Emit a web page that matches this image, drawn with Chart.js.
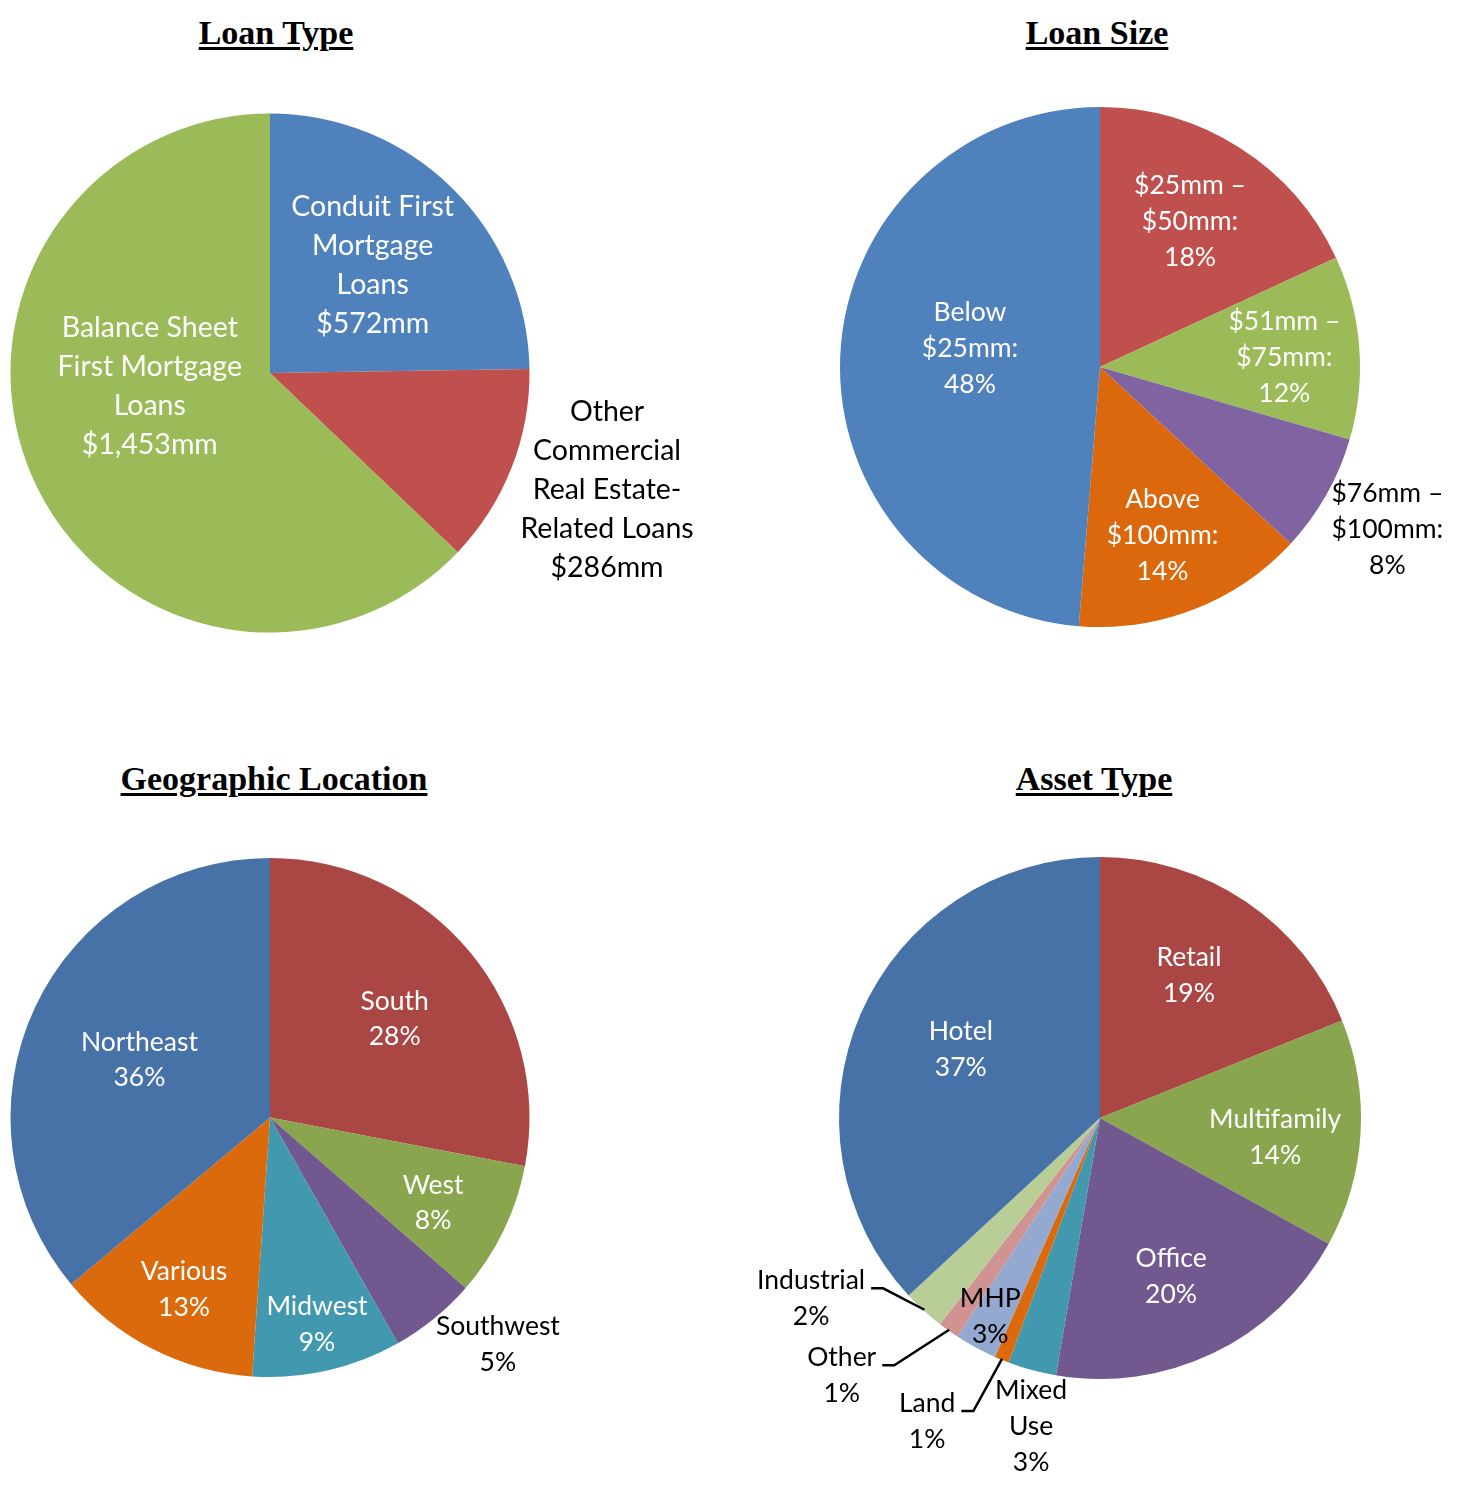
<!DOCTYPE html>
<html lang="en">
<head>
    <meta charset="UTF-8">
    <title>Loan Portfolio Composition</title>
    <script src="https://cdn.jsdelivr.net/npm/chart.js"></script>
    <style>
        body {
            margin: 0;
            background: #ffffff;
        }

        .page {
            position: relative;
            width: 1465px;
            height: 1485px;
            overflow: hidden;
        }

        .page canvas {
            position: absolute;
        }

        .title {
            position: absolute;
            transform: translateX(-50%);
            font-family: 'Liberation Serif', 'Times New Roman', serif;
            font-weight: bold;
            font-size: 34px;
            line-height: 34px;
            white-space: nowrap;
            color: #000;
            text-decoration: underline;
            text-decoration-thickness: 3px;
            text-underline-offset: 3px;
        }
    </style>
</head>
<body>

<div class="page" id="page">
    <div class="title" style="left:276px; top:16px;">Loan Type</div>
    <div class="title" style="left:1097px; top:16px;">Loan Size</div>
    <div class="title" style="left:274px; top:762px;">Geographic Location</div>
    <div class="title" style="left:1094px; top:762px;">Asset Type</div>
</div>

<script>
    // --- data ---
    const loanTypeCategories = ['Conduit First Mortgage Loans', 'Other Commercial Real Estate-Related Loans', 'Balance Sheet First Mortgage Loans'];
    const loanTypeValues = [572, 286, 1453];
    const loanTypeText = [
        ['Conduit First', 'Mortgage', 'Loans', '$572mm'],
        ['Other', 'Commercial', 'Real Estate-', 'Related Loans', '$286mm'],
        ['Balance Sheet', 'First Mortgage', 'Loans', '$1,453mm']
    ];

    const loanSizeCategories = ['$25mm – $50mm', '$51mm – $75mm', '$76mm – $100mm', 'Above $100mm', 'Below $25mm'];
    const loanSizeValues = [18.1, 11.4, 7.4, 14.4, 48.7];
    const loanSizeText = [
        ['$25mm –', '$50mm:', '18%'],
        ['$51mm –', '$75mm:', '12%'],
        ['$76mm –', '$100mm:', '8%'],
        ['Above', '$100mm:', '14%'],
        ['Below', '$25mm:', '48%']
    ];

    const geoCategories = ['South', 'West', 'Southwest', 'Midwest', 'Various', 'Northeast'];
    const geoValues = [28.0, 8.4, 5.4, 9.3, 12.8, 36.1];
    const geoText = [
        ['South', '28%'],
        ['West', '8%'],
        ['Southwest', '5%'],
        ['Midwest', '9%'],
        ['Various', '13%'],
        ['Northeast', '36%']
    ];

    const assetCategories = ['Retail', 'Multifamily', 'Office', 'Mixed Use', 'Land', 'MHP', 'Other', 'Industrial', 'Hotel'];
    const assetValues = [18.9, 14.1, 19.7, 3.0, 0.9, 2.6, 1.3, 2.6, 36.9];
    const assetText = [
        ['Retail', '19%'],
        ['Multifamily', '14%'],
        ['Office', '20%'],
        ['Mixed', 'Use', '3%'],
        ['Land', '1%'],
        ['MHP', '3%'],
        ['Other', '1%'],
        ['Industrial', '2%'],
        ['Hotel', '37%']
    ];

    // --- draws the multi-line labels (and leader lines) for each slice ---
    const sliceLabels = {
        id: 'sliceLabels',
        afterDatasetsDraw(chart, args, opts) {
            const ctx = chart.ctx;
            const arcs = chart.getDatasetMeta(0).data;
            ctx.save();
            ctx.font = opts.size + 'px Lato, "Open Sans", sans-serif';
            ctx.textAlign = 'center';
            ctx.textBaseline = 'middle';
            arcs.forEach((arc, i) => {
                const p = opts.place[i];
                const { x, y, startAngle, endAngle, outerRadius } =
                    arc.getProps(['x', 'y', 'startAngle', 'endAngle', 'outerRadius'], true);
                const a = startAngle + p.t * (endAngle - startAngle);
                const lx = x + Math.cos(a) * p.f * outerRadius;
                const ly = y + Math.sin(a) * p.f * outerRadius;
                const lines = opts.text[i];
                const y0 = ly - (lines.length - 1) / 2 * opts.lineHeight;

                ctx.fillStyle = opts.colors[i];
                lines.forEach((s, k) => ctx.fillText(s, lx, y0 + k * opts.lineHeight));

                if (p.leader) {
                    const mid = (startAngle + endAngle) / 2;
                    const rx = x + Math.cos(mid) * (outerRadius - 1);
                    const ry = y + Math.sin(mid) * (outerRadius - 1);
                    const tx = lx + ctx.measureText(lines[0]).width / 2 + 6;
                    const ty = y0 + opts.size * 0.3;
                    ctx.strokeStyle = '#000';
                    ctx.lineWidth = 2.5;
                    ctx.beginPath();
                    ctx.moveTo(tx, ty);
                    ctx.lineTo(tx + 12, ty);
                    ctx.lineTo(rx, ry);
                    ctx.stroke();
                }
            });
            ctx.restore();
        }
    };

    function makePie(box, categories, values, colors, labels) {
        const canvas = document.createElement('canvas');
        canvas.width = box.width;
        canvas.height = box.height;
        canvas.style.left = box.left + 'px';
        canvas.style.top = box.top + 'px';
        document.getElementById('page').appendChild(canvas);

        new Chart(canvas.getContext('2d'), {
            type: 'pie',
            data: {
                labels: categories,
                datasets: [{
                    data: values,
                    backgroundColor: colors,
                    borderWidth: 0
                }]
            },
            options: {
                responsive: false,
                animation: false,
                layout: {
                    padding: {
                        left: box.cx - box.r - box.left,
                        top: box.cy - box.r - box.top,
                        right: box.left + box.width - box.cx - box.r,
                        bottom: box.top + box.height - box.cy - box.r
                    }
                },
                plugins: {
                    legend: { display: false },
                    tooltip: { enabled: false },
                    sliceLabels: labels
                }
            },
            plugins: [sliceLabels]
        });
    }

    const W = '#ffffff', K = '#000000';

    makePie(
        { left: 0, top: 60, width: 732, height: 680, cx: 270, cy: 373, r: 259.5 },
        loanTypeCategories, loanTypeValues,
        ['#4F81BD', '#C0504D', '#9BBB59'],
        {
            text: loanTypeText, size: 28.5, lineHeight: 39,
            colors: [W, K, W],
            place: [{ f: 0.573, t: 0.49 }, { f: 1.375, t: 0.45 }, { f: 0.466, t: 0.575 }]
        }
    );

    makePie(
        { left: 732, top: 60, width: 733, height: 680, cx: 1100, cy: 367, r: 260 },
        loanSizeCategories, loanSizeValues,
        ['#C0504D', '#9BBB59', '#8064A2', '#DB680C', '#4F81BD'],
        {
            text: loanSizeText, size: 26.5, lineHeight: 36,
            colors: [W, W, K, W, W],
            place: [{ f: 0.657, t: 0.488 }, { f: 0.71, t: 0.53 }, { f: 1.27, t: 0.5 },
                    { f: 0.69, t: 0.516 }, { f: 0.505, t: 0.532 }]
        }
    );

    makePie(
        { left: 0, top: 805, width: 732, height: 680, cx: 270, cy: 1117.5, r: 259.5 },
        geoCategories, geoValues,
        ['#AA4643', '#89A54E', '#71588F', '#4198AF', '#DB6A0C', '#4672A7'],
        {
            text: geoText, size: 26.5, lineHeight: 35.5,
            colors: [W, W, K, W, W, W],
            place: [{ f: 0.613, t: 0.512 }, { f: 0.71, t: 0.559 }, { f: 1.24, t: 0.199 },
                    { f: 0.817, t: 0.499 }, { f: 0.74, t: 0.491 }, { f: 0.55, t: 0.491 }]
        }
    );

    makePie(
        { left: 732, top: 805, width: 733, height: 680, cx: 1100, cy: 1118, r: 261 },
        assetCategories, assetValues,
        ['#AA4643', '#89A54E', '#71588F', '#4198AF', '#DB6A0C', '#93A9CF', '#D09392', '#B9CD96', '#4672A7'],
        {
            text: assetText, size: 26.5, lineHeight: 36,
            colors: [W, W, W, K, K, K, K, K, W],
            place: [{ f: 0.645, t: 0.469 }, { f: 0.675, t: 0.555 }, { f: 0.667, t: 0.523 },
                    { f: 1.21, t: 0.267 }, { f: 1.337, t: 2.83, leader: true }, { f: 0.87, t: 0.55 },
                    { f: 1.397, t: 2.56, leader: true }, { f: 1.305, t: 2.16, leader: true },
                    { f: 0.595, t: 0.521 }]
        }
    );
</script>

</body>
</html>
